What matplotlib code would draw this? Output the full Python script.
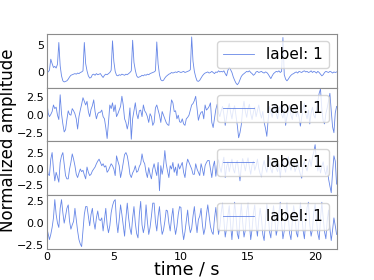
import numpy as np
import matplotlib
matplotlib.use("Agg")
import matplotlib.pyplot as plt

dt = 0.1  # s between samples

# channel 1 (ECG-like)
ch1 = [0.2, 0.1, 0.4, 2.4, 1.6, 0.9, 1.1, 0.8, 1.5, 5.4,
       1.2, -0.6, -1.5, -1.7, -1.6, -1.5, -1.2, -0.8, -0.5, -0.4,
       -0.3, -0.2, -0.3, -0.1, -0.2, 0.0, 0.1, 0.3, 5.4, 1.6,
       0.3, -0.6, -1.0, -0.9, -0.4, -0.3, -0.5, -0.2, -0.4, -0.3,
       -0.2, -0.6, -0.9, -0.5, -0.3, -0.4, -0.2, 0.0, 0.4, 5.7,
       2.0, 0.2, -0.5, -0.6, -0.4, -0.5, -0.3, -0.4, -0.5, -0.3,
       -0.4, -0.2, 0.0, 0.3, 5.8, 1.8, 0.4, -0.6, -0.9, -0.8,
       -0.7, -0.5, -0.6, -0.4, -0.5, -0.3, -0.4, -0.2, -0.1, 0.0,
       0.1, 0.3, 5.5, 1.5, -0.4, -1.3, -1.5, -1.4, -1.0, -0.7,
       -0.5, -0.3, -0.2, 0.0, -0.1, 0.0, 0.1, 0.0, 0.2, 0.1,
       0.0, 0.1, 0.2, 0.0, 0.1, 0.2, 0.3, 0.5, 6.4, 2.0,
       0.2, -0.8, -1.5, -1.6, -1.4, -1.0, -0.6, -0.3, -0.1, 0.0,
       0.1, -0.1, 0.0, 0.2, 0.0, -0.2, 0.1, 0.0, 0.3, 0.1,
       0.2, 0.1, 0.3, -0.2, -0.6, 0.4, 0.9, 0.5, 0.0, -0.8,
       -1.4, -1.9, -2.2, -1.9, -1.3, -0.7, -0.4, -0.2, 0.0, 0.2,
       0.1, 0.3, 0.0, -0.2, -0.5, -0.3, 0.1, 0.2, 0.0, 0.1,
       0.2, 0.0, -0.1, 0.1, 0.0, -0.3, -0.7, -1.1, -0.6, -0.2,
       0.0, 0.2, 0.1, 0.3, 0.0, 0.2, 6.3, -0.4, -1.2, -1.5,
       -1.2, -0.8, -0.5, -0.3, -0.2, 0.0, 0.1, -0.1, 0.2, 0.1,
       0.0, 0.2, 0.3, 0.1, 0.2, 0.0, 0.1, 0.3, 0.0, 0.2,
       0.1, -0.1, 0.2, 0.0, -0.3, -0.6, -0.4, 0.0, 0.2, 0.1,
       0.0, 0.2, 0.1, -0.1, 0.1, 0.0, 0.1]

ch2 = [2.2, 0.3, -0.2, 0.1, 0.5, 1.4, 0.9, 1.1, 0.0, -0.6,
       2.8, 0.2, -1.2, -2.3, -2.0, -0.6, 0.6, 0.1, 0.0, 0.9,
       0.6, 0.2, -0.5, -1.9, -0.2, 0.7, 1.5, 2.4, 1.9, 1.4,
       1.9, 0.5, -0.2, 0.8, 1.3, 2.1, 0.5, -0.5, 0.2, 0.4,
       0.4, 0.7, -0.2, -0.5, -1.7, -3.2, -1.0, 1.4, 0.9, 1.7,
       0.5, 1.4, -0.2, 0.2, 0.7, 1.2, 2.6, 1.4, -0.5, -1.0,
       -1.9, -1.0, 1.0, -3.3, -0.5, 0.6, 1.7, 0.2, -0.5, 0.6,
       0.7, -0.2, 1.4, 0.6, 0.3, -0.2, -1.0, 0.2, -0.2, -1.4,
       -1.0, 1.0, 1.4, 0.7, 0.0, -1.0, 0.5, 0.0, -0.5, -1.0,
       -1.3, -1.4, 0.5, 2.1, 1.7, 0.5, 0.6, -0.5, 0.0, -0.9,
       -1.0, -0.5, -1.2, -1.4, -0.5, -0.3, 0.0, 0.7, 1.4, 1.6,
       2.0, 2.6, 1.0, -0.7, 0.0, 0.4, 0.5, -0.5, 1.4, 0.7,
       0.9, 1.2, 1.7, -1.0, -1.7, -0.4, 0.8, 1.5, 0.3, -0.2,
       0.6, 1.2, 0.1, -1.4, -0.3, 0.9, 1.6, 0.4, -0.5, 0.7,
       1.3, 0.0, -1.4, -3.1, -2.4, -1.3, 0.8, 1.9, 0.5, -0.3,
       0.9, 1.5, 0.2, -0.6, 0.4, 1.1, -0.2, 0.6, 1.4, 0.3,
       -0.4, 0.5, -1.0, -1.8, -2.9, -0.6, 1.2, 0.4, -0.3, 0.8,
       1.5, 0.2, -0.5, 0.7, 1.3, 0.1, -0.4, 0.9, -1.4, -0.2,
       0.6, 1.4, 0.0, -0.6, 0.8, 1.2, -0.2, 0.5, -0.3, -1.5,
       -0.3, 0.9, 1.6, 0.2, -0.5, 0.7, -1.2, 0.3, 1.1, 0.0,
       -0.4, 0.8, 1.9, 3.0, 3.6, 0.8, -0.8, -1.2, 0.2, 1.0,
       2.0, 3.0, 0.6, -1.6, -2.4, 0.3, 1.2]

ch3 = [0.6, -0.8, -1.0, 1.5, 2.5, 0.0, -1.8, -0.5, -1.2, -2.0,
       1.0, 2.0, 2.5, 0.8, -1.0, -1.5, -1.5, 0.0, 1.0, 2.3,
       1.5, 0.5, -0.8, -1.3, -0.6, 0.0, -0.4, -0.2, -0.9, -1.5,
       0.3, -0.5, -1.0, -0.8, -0.3, 0.0, 0.3, 0.8, 1.2, 1.5,
       1.0, 0.5, 0.8, 0.3, 0.5, -0.5, -0.2, 0.3, 0.8, 0.5,
       0.0, -1.0, 2.0, 1.2, 0.5, -1.3, -0.3, 1.0, 2.2, 2.5,
       2.0, 0.8, -0.8, -1.3, -0.6, -0.2, 0.5, -0.5, -0.3, 0.4,
       0.8, 2.3, 1.2, 0.8, -0.5, -1.3, 0.2, -0.8, -1.5, 0.0,
       0.8, -0.2, -1.0, 1.0, -3.3, 0.5, -0.8, 0.4, 2.8, 0.8,
       -0.3, -1.3, 0.5, 0.0, 1.0, -0.5, 0.3, -1.0, 0.8, 0.0,
       0.5, 1.0, -0.5, -1.3, 0.5, 1.5, 1.0, 0.5, 0.0, -0.8,
       -0.8, 0.8, 0.0, -0.5, -1.0, 0.8, 0.0, -1.0, 0.5, 1.0,
       1.3, 1.3, 0.0, -1.3, 0.4, 1.2, -1.1, 0.5, 1.4, 0.2,
       -0.5, 0.9, 1.8, -1.3, 0.3, 1.1, -0.4, 0.6, 1.5, 0.0,
       -0.6, 0.8, 1.3, -0.2, -1.8, 0.4, 1.6, 0.7, -0.3, 0.9,
       1.7, 0.3, -0.8, 0.6, 1.2, -0.2, 0.5, 1.5, 0.1, -0.7,
       -1.2, 0.4, 1.3, 0.2, -0.5, 0.9, 1.8, 0.0, -0.6, 0.7,
       1.4, 0.1, -0.4, 0.8, -1.2, 0.5, 1.6, 0.3, -0.5, 1.0,
       1.9, 0.6, -0.2, 0.9, 1.3, -0.4, 0.2, 1.1, 0.0, -0.8,
       -1.4, 0.5, 1.2, 0.3, -0.3, 0.8, 1.5, 0.4, 1.8, 2.6,
       3.7, 1.2, -0.3, 0.6, -0.6, 0.4, 1.1, -0.2, -0.9, 0.5,
       -1.5, -2.6, -3.6, -0.5, 2.0, 1.2, -2.3]

ch4 = [-0.5, -1.2, -1.9, -1.3, -0.5, 0.6, 2.7, 1.0, 0.0, -0.5,
       1.7, 2.7, 1.2, 0.0, 0.8, 1.7, 2.1, 0.2, -0.7, -0.2,
       0.2, 1.7, 0.4, -0.9, -1.9, -2.4, -2.7, -0.9, 1.0, 1.9,
       1.9, 0.8, -0.3, 1.0, 1.7, 0.2, -0.7, 0.6, 1.4, 0.4,
       0.3, 0.6, -0.9, 0.4, 1.7, -0.2, -1.1, -0.3, 1.2, 2.0,
       2.5, 2.7, 0.2, -1.1, 0.4, 2.1, 1.0, -0.2, -1.5, 0.6,
       2.3, 0.6, -0.6, -1.3, 0.6, 1.9, 0.0, -1.2, -1.7, 1.0,
       2.5, -0.2, -1.1, -0.3, 2.1, 0.2, -1.3, -0.5, 0.8, 2.3,
       2.3, 0.2, -0.9, 0.8, 1.9, 0.0, -1.3, -0.8, 0.2, 1.5,
       1.4, 0.0, -0.9, 0.6, 1.7, -0.2, -1.3, -0.4, 1.0, 1.9,
       1.8, -0.7, -1.9, -1.0, 0.2, 1.5, -0.2, -1.1, -0.6, 0.8,
       1.9, 0.2, -1.1, 0.4, 0.8, 1.7, -0.2, -1.3, -0.6, 1.0,
       2.1, 0.8, -0.4, -1.0, -1.3, 0.5, 1.8, 0.3, -1.3, -0.4,
       1.2, 2.3, 0.4, -1.6, -0.6, 0.9, 2.0, -0.2, -1.9, 0.3,
       2.4, 0.9, -1.2, -1.8, 0.6, 2.2, 0.1, -1.6, -0.8, 1.3,
       2.3, 0.0, -1.9, -0.7, 1.1, 2.1, -0.3, -1.5, 0.4, 1.7,
       0.6, -1.3, -2.0, 0.2, 2.2, 1.0, -1.0, -1.7, 0.5, 2.0,
       0.4, -1.4, -0.6, 1.2, 2.4, 0.0, -1.8, -0.9, 1.0, 2.3,
       0.7, -1.2, -1.9, 0.3, 2.0, 0.8, -1.1, -1.6, 0.6, 2.3,
       1.1, -0.8, -1.8, 0.2, 1.8, 2.4, -0.2, -1.5, -0.7, 1.3,
       2.2, 0.4, -1.2, -1.9, 0.5, 2.4, 0.6, -1.0, -1.8, 0.3,
       1.5, -0.6, -2.0, -0.8, 0.6, -0.3, -1.3]

channels = [ch1, ch2, ch3, ch4]
ylims = [(-2.7, 7.0), (-3.6, 3.8), (-4.0, 4.2), (-3.0, 3.2)]
label = 1

fig, axes = plt.subplots(4, 1, sharex=True, figsize=(3.74, 2.8), dpi=100)
fig.subplots_adjust(hspace=0)

for ax, sig, yl in zip(axes, channels, ylims):
    t = np.arange(len(sig)) * dt
    ax.plot(t, sig, color="royalblue", lw=0.6, alpha=0.8, label=f"label: {label}")
    ax.set_ylim(*yl)
    ax.set_xlim(0, 21.6)
    ax.legend(loc="upper right", fontsize=11)
    ax.tick_params(labelsize=8, length=0, pad=2)
    for s in ax.spines.values():
        s.set_color("0.55")

fig.text(0.5, 0.004, "time / s", ha="center", va="bottom", fontsize=12.5)
fig.text(0.022, 0.5, "Normalized amplitude", ha="center", va="center",
         rotation=90, fontsize=12)

plt.savefig("out.png", dpi=100)
